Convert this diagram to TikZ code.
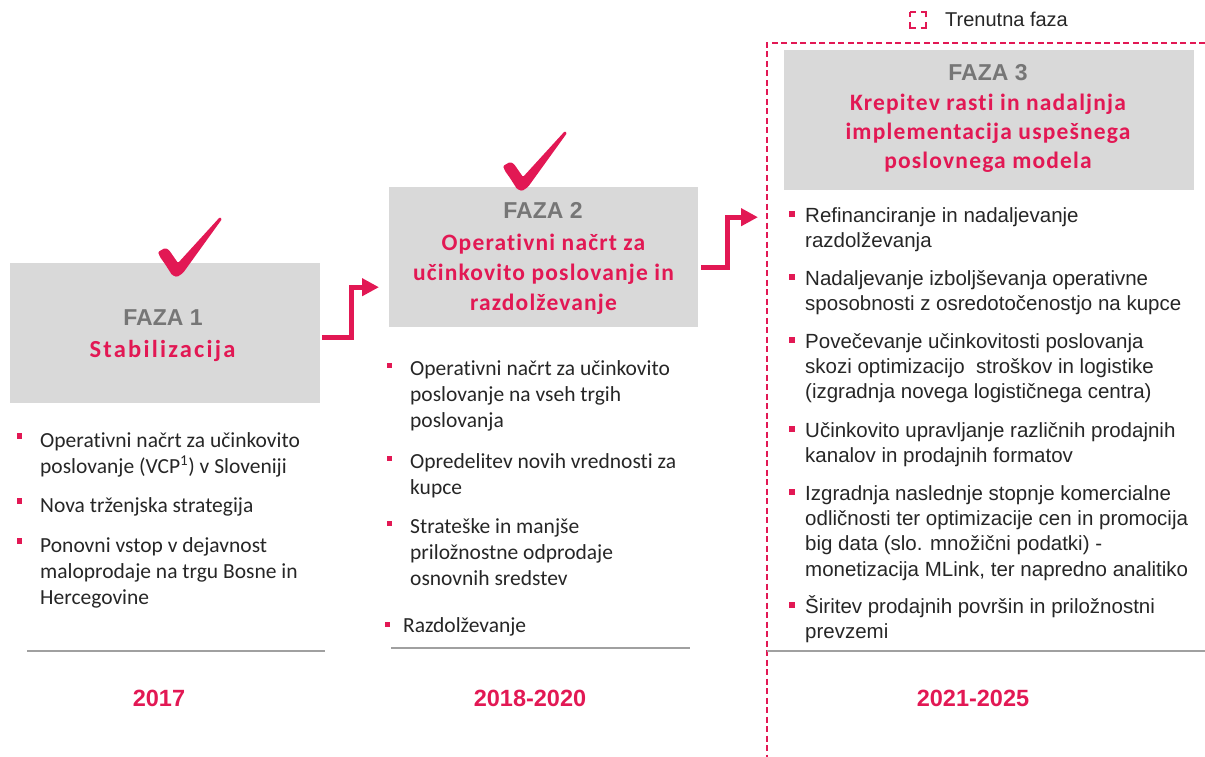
\documentclass[tikz,border=0pt]{standalone}
\usepackage{fontspec}
\setmainfont{Carlito}[Ligatures=NoCommon]
\newfontfamily\arialf{Liberation Sans}
\newfontfamily\headf{Carlito}[LetterSpace=5,Ligatures=NoCommon]
\newfontfamily\headfs{Carlito}[LetterSpace=9,Ligatures=NoCommon]
\usetikzlibrary{arrows.meta}
\definecolor{mpink}{RGB}{226,24,84}
\definecolor{boxgray}{RGB}{217,217,217}
\definecolor{fazagray}{RGB}{118,118,118}
\definecolor{txt}{RGB}{38,38,38}
\definecolor{rulegray}{RGB}{160,160,160}
\newcommand\bsq[3]{\makebox[0pt][r]{\textcolor{mpink}{\rule[#1]{#2}{#2}}\hspace*{#3}}\strut}
\begin{document}
\begin{tikzpicture}[x=1pt,y=-1pt,
  box/.style={fill=boxgray, draw=none, inner sep=0, anchor=north west},
  faza/.style={font=\arialf\bfseries\fontsize{23}{27}\selectfont, text=fazagray, inner sep=0, anchor=base},
  head/.style={font=\headf\bfseries\fontsize{23.5}{30}\selectfont, text=mpink, inner sep=0, align=center, anchor=north},
  itemA/.style={font=\fontsize{21.5}{26}\selectfont, text=txt, inner sep=0, align=left, anchor=north west},
  itemC/.style={font=\arialf\fontsize{20.5}{25.3}\selectfont, text=txt, inner sep=0, align=left, anchor=north west},
  year/.style={font=\arialf\bfseries\fontsize{23.5}{28}\selectfont, text=mpink, inner sep=0, anchor=base},
  flow/.style={draw=mpink, line width=5pt, -{Triangle[length=17pt,width=17pt]}},
  rulel/.style={draw=rulegray, line width=1.5pt},
  frame/.style={draw=mpink, line width=2pt, dash pattern=on 6pt off 3.5pt},
  checkm/.style={fill=mpink, rounded corners=1.2pt}
]
\useasboundingbox (0,0) rectangle (1205,757);

% legend
\draw[mpink, line width=2.8pt, dash pattern=on 11pt off 5pt, dash phase=5.5pt] (910,12) rectangle (926,28);
\node[font=\arialf\fontsize{20}{24}\selectfont, text=txt, inner sep=0, anchor=base west] (leg) at (945,27) {Trenutna faza};

% current phase frame
\draw[frame] (1205,43) -- (767,43) -- (767,757);

% boxes
\node[box, minimum width=310pt, minimum height=140pt] (b1) at (10,263) {};
\node[box, minimum width=309pt, minimum height=140pt] (b2) at (389,187) {};
\node[box, minimum width=410pt, minimum height=140pt] (b3) at (784,50) {};

% check marks
\fill[checkm, shift={(175,277)}] (-17,-25) -- (-10,-29) -- (-6,-27) -- (3,-14) -- (45,-60) -- (47,-58) -- (8,-4) -- (2,0) -- (-3,-2) -- (-10,-13) -- (-15,-20) -- cycle;
\fill[checkm, shift={(520,191)}] (-17,-25) -- (-10,-29) -- (-6,-27) -- (3,-14) -- (45,-60) -- (47,-58) -- (8,-4) -- (2,0) -- (-3,-2) -- (-10,-13) -- (-15,-20) -- cycle;

% headings
\node[faza] (f1) at (163,325) {FAZA 1};
\node[font=\headfs\bfseries\fontsize{24.5}{30}\selectfont, text=mpink, inner sep=0, anchor=base] (h1) at (162.5,357) {Stabilizacija};
\node[faza] (f2) at (543,218) {FAZA 2};
\node[head] (h2) at (543.5,229) {\strut Operativni načrt za\\učinkovito poslovanje in\\razdolževanje};
\node[faza] (f3) at (988,81) {FAZA 3};
\node[head, font=\headf\bfseries\fontsize{23.5}{29}\selectfont] (h3) at (988,89.7) {\strut Krepitev rasti in nadaljnja\\implementacija uspešnega\\poslovnega modela};

% arrows
\draw[flow] ([shift={(2,4)}]b1.east) -| ([shift={(-38,30)}]b2.west) -- ([shift={(-10,30)}]b2.west);
\draw[flow] ([shift={(3,10)}]b2.east) -| ([shift={(-57,97)}]b3.west) -- ([shift={(-26,97)}]b3.west);

% phase 1 items
\node[itemA] (p1a) at (40,447-18.2) {\bsq{8.5pt}{5.5pt}{18pt}Operativni načrt za učinkovito\\poslovanje (VCP\textsuperscript{1}) v Sloveniji};
\node[itemA] (p1b) at (40,512-18.2) {\bsq{8.5pt}{5.5pt}{18pt}Nova trženjska strategija};
\node[itemA] (p1c) at (40,552-18.2) {\bsq{8.5pt}{5.5pt}{18pt}Ponovni vstop v dejavnost\\maloprodaje na trgu Bosne in\\Hercegovine};

% phase 2 items
\node[itemA] (p2a) at (410,375-18.2) {\bsq{7pt}{5.5pt}{18pt}Operativni načrt za učinkovito\\poslovanje na vseh trgih\\poslovanja};
\node[itemA] (p2b) at (410,468-18.2) {\bsq{7pt}{5.5pt}{18pt}Opredelitev novih vrednosti za\\kupce};
\node[itemA] (p2c) at (410,533-18.2) {\bsq{7pt}{5.5pt}{18pt}Strateške in manjše\\priložnostne odprodaje\\osnovnih sredstev};
\node[itemA] (p2d) at (403,632-18.2) {\bsq{5pt}{5.5pt}{13pt}Razdolževanje};

% phase 3 items
\node[itemC] (p3a) at (805,222-17.71) {\bsq{5pt}{6pt}{10pt}Refinanciranje in nadaljevanje\\razdolževanja};
\node[itemC] (p3b) at (805,285-17.71) {\bsq{5pt}{6pt}{10pt}Nadaljevanje izboljševanja operativne\\sposobnosti z osredotočenostjo na kupce};
\node[itemC] (p3c) at (805,348-17.71) {\bsq{5pt}{6pt}{10pt}Povečevanje učinkovitosti poslovanja\\skozi optimizacijo \ stroškov in logistike\\(izgradnja novega logističnega centra)};
\node[itemC] (p3d) at (805,437-17.71) {\bsq{5pt}{6pt}{10pt}Učinkovito upravljanje različnih prodajnih\\kanalov in prodajnih formatov};
\node[itemC] (p3e) at (805,500-17.71) {\bsq{5pt}{6pt}{10pt}Izgradnja naslednje stopnje komercialne\\odličnosti ter optimizacije cen in promocija\\big data (slo. množični podatki) -\\monetizacija MLink, ter napredno analitiko};
\node[itemC] (p3f) at (805,613-17.71) {\bsq{5pt}{6pt}{10pt}Širitev prodajnih površin in priložnostni\\prevzemi};

% rules
\draw[rulel] (27,651) -- (325,651);
\draw[rulel] (391,648) -- (690,648);
\draw[rulel] (767,651) -- (1205,651);

% years
\node[year] (y1) at (159,706) {2017};
\node[year] (y2) at (530,706) {2018-2020};
\node[year] (y3) at (973,706) {2021-2025};
\end{tikzpicture}
\end{document}
